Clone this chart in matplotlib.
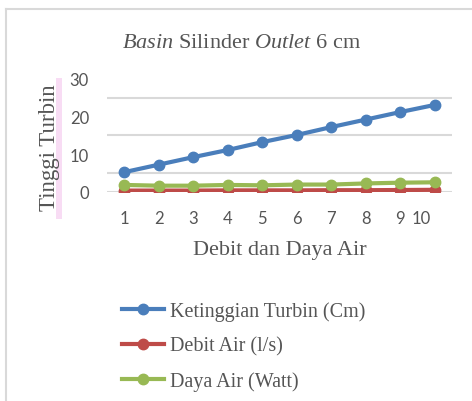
import numpy as np
import matplotlib.pyplot as plt
import matplotlib.transforms as mtransforms
from matplotlib.patches import Rectangle
from matplotlib.lines import Line2D

plt.rcParams['mathtext.fontset'] = 'custom'
plt.rcParams['mathtext.rm'] = 'Liberation Serif'
plt.rcParams['mathtext.it'] = 'Liberation Serif:italic'

# data
points = [1, 2, 3, 4, 5, 6, 7, 8, 9, 10]
ketinggian = [5.2, 7.2, 9.2, 11.1, 13.2, 15.1, 17.2, 19.2, 21.2, 23.1]
debit = [0.3, 0.3, 0.3, 0.35, 0.35, 0.35, 0.4, 0.4, 0.45, 0.5]
daya = [1.8, 1.6, 1.6, 1.8, 1.7, 1.9, 1.9, 2.2, 2.4, 2.5]
y_ticks = [0, 10, 20, 30]
grid_levels = [0, 5, 15, 25]

series = [
    ("Ketinggian Turbin (Cm)", ketinggian, "#4A7EBB"),
    ("Debit Air (l/s)", debit, "#BE4B48"),
    ("Daya Air (Watt)", daya, "#98B954"),
]

W, H = 472, 402
txt = "#555555"
fig = plt.figure(figsize=(W / 100, H / 100), dpi=100)
ax = fig.add_axes([107 / W, 1 - 192.7 / H, (452 - 107) / W, (192.7 - 80) / H])

for g in grid_levels:
    ax.axhline(g, color="#d9d9d9", lw=1.5, zorder=0)

for name, vals, col in series:
    ax.plot(points, vals, color=col, lw=3, marker="o", ms=7.5, label=name)

ax.set_xlim(0.5, 10.5)
ax.set_ylim(0, 30)
ax.set_xticks(points)
ax.set_yticks(y_ticks)
ax.tick_params(length=0, labelsize=12, labelcolor=txt)
ax.tick_params(axis="y", pad=13)
ax.tick_params(axis="x", pad=13)
for lab in ax.get_xticklabels() + ax.get_yticklabels():
    lab.set_fontfamily("Lato")
# "10" sits a bit left of its point in the reference
last = ax.get_xticklabels()[-1]
last.set_transform(last.get_transform() + mtransforms.ScaledTranslation(-14 / 100, 0, fig.dpi_scale_trans))
for s in ax.spines.values():
    s.set_visible(False)

fig.text(241 / W, 1 - 43 / H, r"$\it{Basin}$ Silinder $\it{Outlet}$ 6 cm",
         ha="center", va="center", fontsize=16, color=txt, family="Liberation Serif")
fig.text(280 / W, 1 - 251 / H, "Debit dan Daya Air", ha="center", va="center",
         fontsize=16, color=txt, family="Liberation Serif")

fig.add_artist(Rectangle((56 / W, 1 - 220 / H), 6 / W, 141 / H, transform=fig.transFigure,
                         facecolor="#f8dcf4", edgecolor="none", zorder=0))
fig.text(50 / W, 1 - 148 / H, "Tinggi Turbin", rotation=90, ha="center", va="center",
         fontsize=16.5, color=txt, family="Liberation Serif", zorder=1)

fig.add_artist(Line2D([6 / W, 1], [1 - 10 / H, 1 - 10 / H], transform=fig.transFigure, color="#d9d9d9", lw=1.5))
fig.add_artist(Line2D([6 / W, 6 / W], [0, 1 - 10 / H], transform=fig.transFigure, color="#d9d9d9", lw=1.5))

leg = fig.legend(loc="upper left", bbox_to_anchor=(122 / W, 1 - 302 / H), frameon=False,
                 prop={"family": "Liberation Serif", "size": 14.5}, labelcolor=txt,
                 handlelength=2.1, handletextpad=0.3, labelspacing=0.78, borderpad=0, borderaxespad=0)

fig.savefig("out.png", dpi=100)
